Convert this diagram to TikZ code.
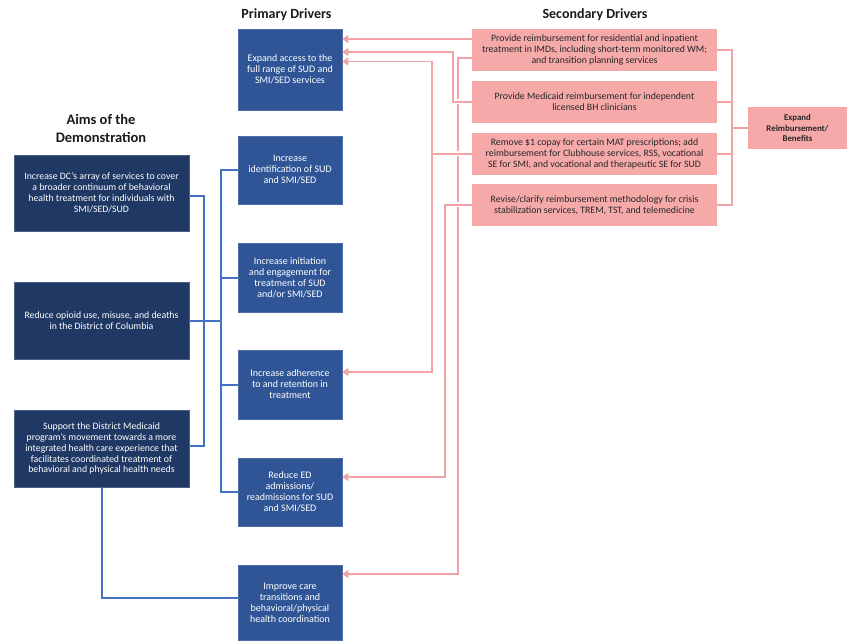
\documentclass[tikz,border=0pt]{standalone}
\usepackage{fontspec}
\setmainfont{Carlito}
\usetikzlibrary{arrows.meta,calc}
\definecolor{aimc}{HTML}{1F3864}
\definecolor{pric}{HTML}{2F5597}
\definecolor{bluel}{HTML}{4472C4}
\definecolor{pinkc}{HTML}{F6A9A9}
\definecolor{pinkl}{HTML}{F2A3A6}
\definecolor{ttl}{HTML}{1A1A1A}
\tikzset{
  aimbox/.style={fill=aimc,draw=aimc!80!white,line width=0.6pt,text=white,align=center,minimum width=175pt,font=\fontsize{9.8}{10.9}\selectfont,inner sep=0pt},
  pribox/.style={fill=pric,draw=pric!85!white,line width=0.6pt,text=white,align=center,minimum width=104pt,font=\fontsize{10}{11}\selectfont,inner sep=0pt},
  secbox/.style={fill=pinkc,text=black!85,align=center,minimum width=245pt,minimum height=42pt,font=\fontsize{9.8}{10.9}\selectfont,inner sep=0pt},
  expbox/.style={fill=pinkc,text=black!85,align=center,minimum width=99pt,minimum height=42pt,font=\bfseries\fontsize{8.8}{10.8}\selectfont,inner sep=0pt},
  ttlnode/.style={text=ttl,font=\bfseries\fontsize{14}{18}\selectfont,align=center,inner sep=0pt},
  bl/.style={draw=bluel,line width=2pt},
  pk/.style={draw=pinkl,line width=1.7pt},
  pka/.style={pk,-{Triangle[length=6pt,width=8pt,fill=pinkl]}},
  gap/.style={draw=white,line width=5pt},
}
\begin{document}
\begin{tikzpicture}[x=1pt,y=-1pt]
\useasboundingbox (0,0) rectangle (850,644);
% titles
\node[ttlnode] (tp) at (286.5,15) {Primary Drivers};
\node[ttlnode] (ts) at (595,15) {Secondary Drivers};
\node[ttlnode,font=\bfseries\fontsize{14.5}{18}\selectfont] (ta) at (101,128) {Aims of the\\Demonstration};
% aims
\node[aimbox,minimum height=76pt] (a1) at (101.5,193) {Increase DC’s array of services to cover\\a broader continuum of behavioral\\health treatment for individuals with\\SMI/SED/SUD};
\node[aimbox,minimum height=77pt] (a2) at (101.5,320.5) {Reduce opioid use, misuse, and deaths\\in the District of Columbia};
\node[aimbox,minimum height=77pt] (a3) at (101.5,448.5) {Support the District Medicaid\\program’s movement towards a more\\integrated health care experience that\\facilitates coordinated treatment of\\behavioral and physical health needs};
% primary drivers
\node[pribox,minimum height=81pt] (p1) at (290,69.5) {Expand access to the\\full range of SUD and\\SMI/SED services};
\node[pribox,minimum height=68pt] (p2) at (290,170) {Increase\\identification of SUD\\and SMI/SED};
\node[pribox,minimum height=69pt] (p3) at (290,277.5) {Increase initiation\\and engagement for\\treatment of SUD\\and/or SMI/SED};
\node[pribox,minimum height=69pt] (p4) at (290,384.5) {Increase adherence\\to and retention in\\treatment};
\node[pribox,minimum height=68pt] (p5) at (290,492) {Reduce ED\\admissions/\\readmissions for SUD\\and SMI/SED};
\node[pribox,minimum height=75pt] (p6) at (290,602.5) {Improve care\\transitions and\\behavioral/physical\\health coordination};
% secondary drivers
\node[secbox] (s1) at (594.5,50) {Provide reimbursement for residential and inpatient\\treatment in IMDs, including short-term monitored WM;\\and transition planning services};
\node[secbox] (s2) at (594.5,102) {Provide Medicaid reimbursement for independent\\licensed BH clinicians};
\node[secbox] (s3) at (594.5,154) {Remove \$1 copay for certain MAT prescriptions; add\\reimbursement for Clubhouse services, RSS, vocational\\SE for SMI, and vocational and therapeutic SE for SUD};
\node[secbox] (s4) at (594.5,205) {Revise/clarify reimbursement methodology for crisis\\stabilization services, TREM, TST, and telemedicine};
\node[expbox] (e) at (797.5,128) {Expand\\Reimbursement/\\Benefits};
% blue connectors
\draw[bl] ([yshift=-3pt]a1.east) -- ++(15,0) coordinate (ab) |- ([yshift=3pt]a3.east);
\draw[bl] (a2.east) -- ++(32,0);
\draw[bl] (p2.west) -- ++(-17,0) |- (p5.west);
\draw[bl] (p3.west) -- ++(-17,0);
\draw[bl] (p4.west) -- ++(-17,0);
\draw[bl] (a3.south) |- ([yshift=5pt]p6.west);
% right bracket
\draw[pk] (s1.east) -- ++(15,0) |- (s4.east);
\draw[pk] (s2.east) -- ++(15,0);
\draw[pk] (s3.east) -- ++(15,0);
\draw[pk] (e.west) -- ++(-16,0);
% pink connectors to primary drivers
\draw[pka] ([yshift=-8pt]s1.west) -- ++(-14,0) |- ([yshift=28.5pt]p6.east);
\draw[pka] ([yshift=11pt]s1.west) -- ([yshift=11pt]s1.west -| p1.east);
\path (s2.west) ++(-19,0) coordinate (j2);
\path (s3.west) ++(-40,0) coordinate (j3);
\path (s4.west) ++(-27,0) coordinate (j4);
\draw[gap] ([xshift=-8pt]s2.west) -- ([xshift=-18pt]s2.west);
\draw[gap] ([xshift=-8pt]s3.west) -- ([xshift=-18pt]s3.west);
\draw[gap] ([xshift=-8pt]s4.west) -- ([xshift=-18pt]s4.west);
\draw[pka] (s2.west) -- (j2) |- ([yshift=17.5pt]p1.east);
\draw[pka] (s3.west) -- (j3) |- ([yshift=8pt]p1.east);
\draw[pka] (j3) |- ([yshift=12.5pt]p4.east);
\draw[pka] (s4.west) -- (j4) |- ([yshift=15pt]p5.east);
\end{tikzpicture}
\end{document}
